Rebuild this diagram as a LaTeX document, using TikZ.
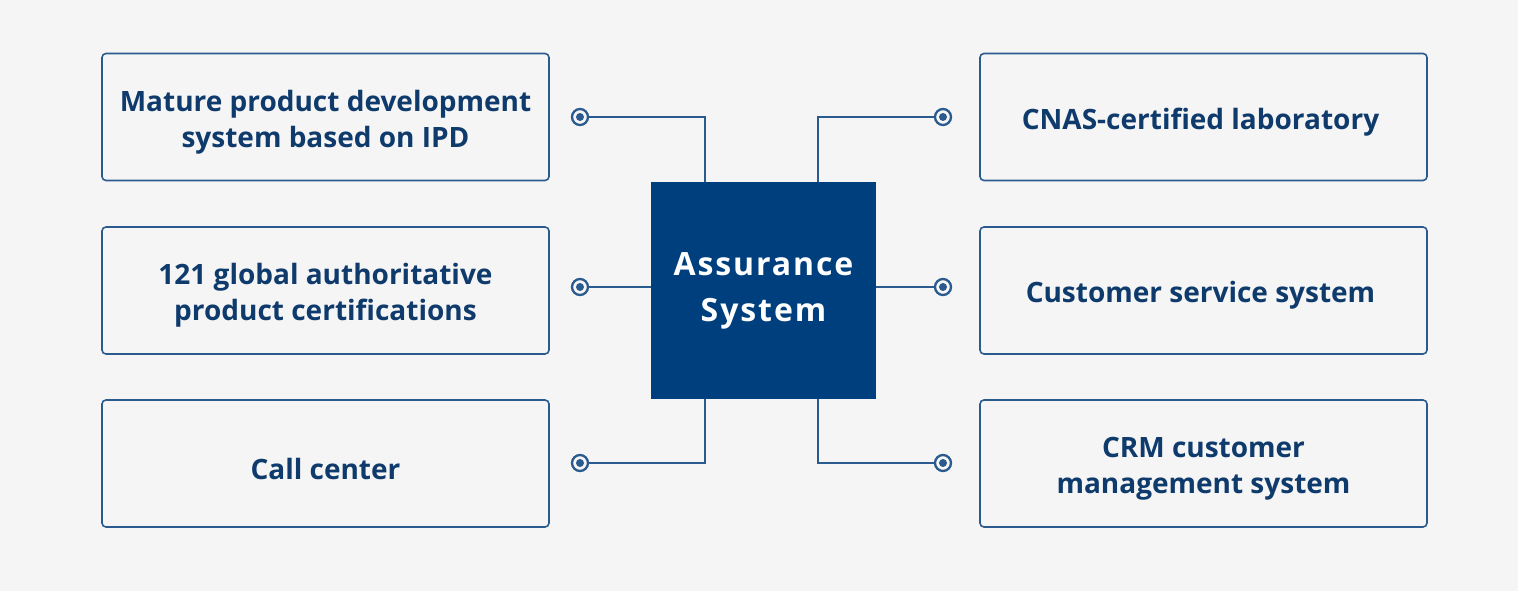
\documentclass[tikz,border=0pt]{standalone}
\usepackage{fontspec}
\setmainfont{Open Sans}
\definecolor{bg}{HTML}{F5F5F5}
\definecolor{navy}{HTML}{003F7D}
\definecolor{edge}{HTML}{2A5A8E}
\definecolor{txt}{HTML}{0E3A6C}
\tikzset{
  item/.style={draw=edge, line width=1.6pt, rounded corners=4pt, fill=bg, minimum width=447pt, minimum height=127pt, inner sep=0pt},
  caption/.style={align=center, text=txt, inner sep=0pt, yshift=-5pt, font=\fontsize{28}{36}\selectfont\bfseries},
  core/.style={fill=navy, minimum width=225pt, minimum height=217pt, inner sep=0pt, align=center, text=white, font=\fontsize{32}{46}\selectfont\bfseries},
  wire/.style={draw=edge, line width=1.8pt},
  ring/.style={draw=edge, line width=2.3pt, fill=bg, circle, minimum size=16pt, inner sep=0pt},
  pip/.style={fill=edge, circle, minimum size=8pt, inner sep=0pt}
}
\begin{document}
\begin{tikzpicture}[x=1pt,y=-1pt]
\fill[bg] (0,0) rectangle (1518,591);
\useasboundingbox (0,0) rectangle (1518,591);
\node[item, label={[caption]center:Mature product development\\system based on IPD}] (l1) at (325.5,117) {};
\node[item, label={[caption]center:121 global authoritative\\product certifications}] (l2) at (325.5,290.5) {};
\node[item, label={[caption]center:Call center}] (l3) at (325.5,463.5) {};
\node[item, label={[caption, xshift=-3pt]center:CNAS-certified laboratory}] (r1) at (1203.5,117) {};
\node[item, label={[caption, xshift=-3pt]center:Customer service system}] (r2) at (1203.5,290.5) {};
\node[item, label={[caption]center:CRM customer\\management system}] (r3) at (1203.5,463.5) {};
\node[core] (c) at (763.5,290.5) {\addfontfeatures{LetterSpace=6}Assurance\\\addfontfeatures{LetterSpace=6}System};
\coordinate (ct1) at (705,182);
\coordinate (ct2) at (818,182);
\coordinate (cb1) at (705,399);
\coordinate (cb2) at (818,399);
\node[ring] (dl1) at (580,117) {};
\node[ring] (dl2) at (580,287) {};
\node[ring] (dl3) at (580,463) {};
\node[ring] (dr1) at (943,117) {};
\node[ring] (dr2) at (943,287) {};
\node[ring] (dr3) at (943,463) {};
\draw[wire] (dl1.east) -| (ct1);
\draw[wire] (dl2.east) -- (dl2.east -| c.west);
\draw[wire] (dl3.east) -| (cb1);
\draw[wire] (dr1.west) -| (ct2);
\draw[wire] (dr2.west) -- (dr2.west -| c.east);
\draw[wire] (dr3.west) -| (cb2);
\foreach \d in {dl1,dl2,dl3,dr1,dr2,dr3} \node[pip] at (\d) {};
\end{tikzpicture}
\end{document}
